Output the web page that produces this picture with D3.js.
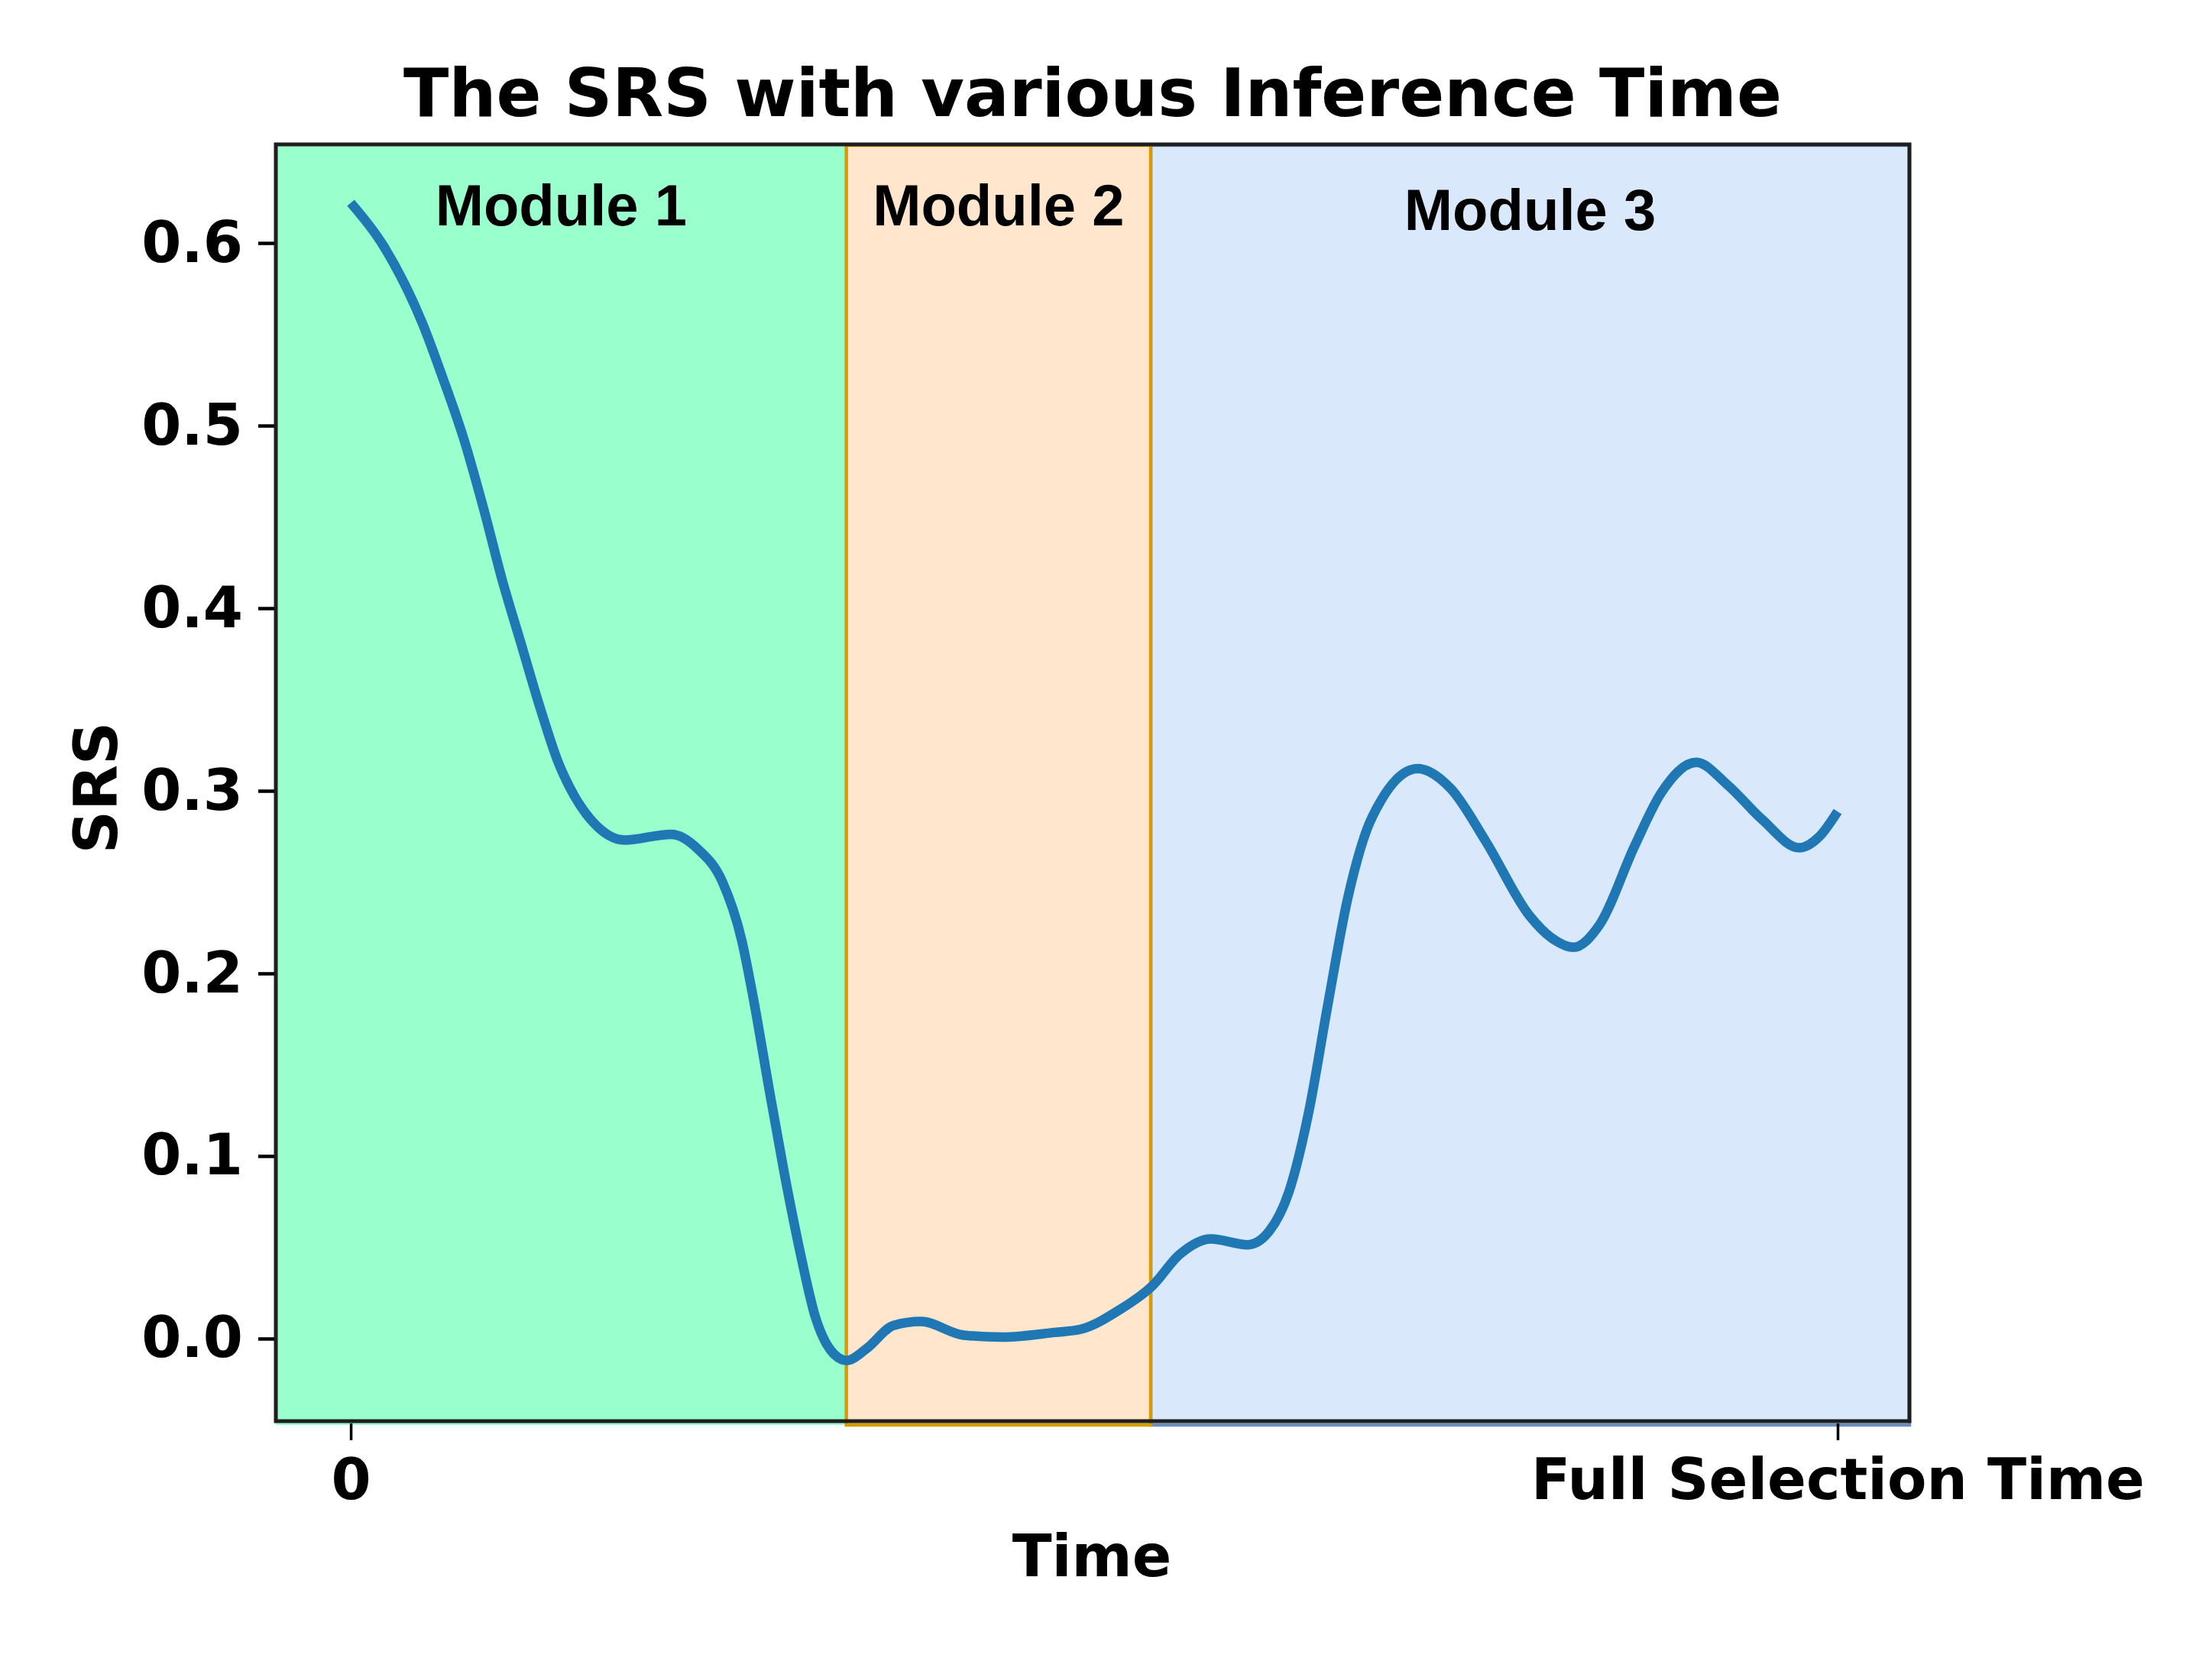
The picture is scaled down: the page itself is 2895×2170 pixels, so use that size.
<!DOCTYPE html>
<html>
<head>
<meta charset="utf-8">
<script src="https://cdn.jsdelivr.net/npm/d3@7"></script>
<style>
  body { margin: 0; background: #ffffff; }
  text { font-family: "DejaVu Sans", sans-serif; font-weight: bold; }
</style>
</head>
<body>
<div id="chart"></div>
<script>
// time as a fraction of the full selection time, SRS
var time = [0.0000, 0.0221, 0.0484, 0.0615, 0.0759, 0.0898, 0.1021, 0.1144, 0.1270, 0.1396,
            0.1501, 0.1632, 0.1841, 0.2156, 0.2340, 0.2497, 0.2628, 0.2707, 0.2812, 0.2916,
            0.3021, 0.3126, 0.3231, 0.3336, 0.3467, 0.3651, 0.3834, 0.4122, 0.4384, 0.4736,
            0.4909, 0.5171, 0.5392, 0.5575, 0.5785, 0.6034, 0.6178, 0.6309, 0.6440, 0.6571,
            0.6703, 0.6834, 0.6925, 0.7176, 0.7397, 0.7633, 0.7928, 0.8075, 0.8223, 0.8400,
            0.8636, 0.8813, 0.9049, 0.9255, 0.9491, 0.9742, 0.9875, 1.0000];
var srs = [0.6220, 0.5983, 0.5556, 0.5270, 0.4930, 0.4531, 0.4147, 0.3810, 0.3464, 0.3155,
           0.2976, 0.2826, 0.2730, 0.2762, 0.2677, 0.2506, 0.2186, 0.1866, 0.1375, 0.0905,
           0.0478, 0.0115, -0.0067, -0.0120, -0.0056, 0.0072, 0.0094, 0.0019, 0.0008, 0.0034,
           0.0051, 0.0158, 0.0290, 0.0461, 0.0546, 0.0514, 0.0589, 0.0802, 0.1229, 0.1827,
           0.2403, 0.2788, 0.2941, 0.3121, 0.3013, 0.2724, 0.2316, 0.2195, 0.2143, 0.2268,
           0.2700, 0.2988, 0.3156, 0.3036, 0.2844, 0.2688, 0.2748, 0.2887];

var moduleNames = ["Module 1", "Module 2", "Module 3"];
var moduleStart = [null, 0.3333, 0.538];   // null = from the left edge
var moduleEnd = [0.3333, 0.538, null];     // null = to the right edge
var moduleFill = ["#99FFCC", "#FFE6CC", "#DAE8FC"];
var moduleStroke = ["none", "#D79B00", "#6C8EBF"];
var drawOrder = [0, 2, 1];                 // orange box sits on top of the blue one

var yTicks = [0.0, 0.1, 0.2, 0.3, 0.4, 0.5, 0.6];
var xTicks = [0, 1];
var xTickLabels = ["0", "Full Selection Time"];

var W = 2895, H = 2170;
// plot box (don't call it "top", window.top is read only)
var pLeft = 361, pRight = 2499, pTop = 189, pBottom = 1860;

var svg = d3.select("#chart").append("svg")
    .attr("width", W)
    .attr("height", H);

var x = d3.scaleLinear().domain([-0.0504, 1.0483]).range([pLeft, pRight]);
var y = d3.scaleLinear().domain([-0.0452, 0.654]).range([pBottom, pTop]);

// module spans
var spans = svg.append("g");
var labels = svg.append("g");
drawOrder.forEach(function(i) {
    var x0 = moduleStart[i] === null ? x.domain()[0] : moduleStart[i];
    var x1 = moduleEnd[i] === null ? x.domain()[1] : moduleEnd[i];
    spans.append("rect")
        .attr("x", x(x0))
        .attr("y", pTop + 1)
        .attr("width", x(x1) - x(x0))
        .attr("height", pBottom - pTop + 4)
        .attr("fill", moduleFill[i])
        .attr("stroke", moduleStroke[i])
        .attr("stroke-width", 4.5);
    labels.append("text")
        .attr("x", x((x0 + x1) / 2))
        .attr("y", i === 2 ? 301 : 295)
        .attr("text-anchor", "middle")
        .style("font-family", "'Liberation Sans', Arial, sans-serif")
        .style("font-size", "76px")
        .attr("fill", "#000")
        .text(moduleNames[i]);
});

// the curve, monotoneX uses the real x spacing so the uneven samples stay smooth
var line = d3.line()
    .x(function(d, i) { return x(time[i]); })
    .y(function(d) { return y(d); })
    .curve(d3.curveMonotoneX);

svg.append("path")
    .datum(srs)
    .attr("d", line)
    .attr("fill", "none")
    .attr("stroke", "#1f77b4")
    .attr("stroke-width", 12.5)
    .attr("stroke-linejoin", "round");

// frame
svg.append("rect")
    .attr("x", pLeft)
    .attr("y", pTop)
    .attr("width", pRight - pLeft)
    .attr("height", pBottom - pTop)
    .attr("fill", "none")
    .attr("stroke", "#1e1e1e")
    .attr("stroke-width", 5);

// y axis
var yAxis = d3.axisLeft(y)
    .tickValues(yTicks)
    .tickFormat(d3.format(".1f"))
    .tickSizeInner(21)
    .tickSizeOuter(0)
    .tickPadding(20);
var gy = svg.append("g")
    .attr("transform", "translate(" + (pLeft - 2) + ",0)")
    .call(yAxis);
gy.select(".domain").remove();
gy.selectAll(".tick line").attr("stroke", "#000").attr("stroke-width", 4.5);
gy.selectAll(".tick text")
    .style("font-family", "'DejaVu Sans', sans-serif")
    .style("font-weight", "bold")
    .style("font-size", "75px")
    .attr("fill", "#000");

// x axis
var xAxis = d3.axisBottom(x)
    .tickValues(xTicks)
    .tickFormat(function(d, i) { return xTickLabels[i]; })
    .tickSizeInner(22)
    .tickSizeOuter(0)
    .tickPadding(24);
var gx = svg.append("g")
    .attr("transform", "translate(0," + (pBottom + 3) + ")")
    .call(xAxis);
gx.select(".domain").remove();
gx.selectAll(".tick line").attr("stroke", "#000").attr("stroke-width", 3.5);
gx.selectAll(".tick text")
    .style("font-family", "'DejaVu Sans', sans-serif")
    .style("font-weight", "bold")
    .style("font-size", "75px")
    .attr("fill", "#000");

// titles
svg.append("text")
    .attr("x", (pLeft + pRight) / 2)
    .attr("y", 152)
    .attr("text-anchor", "middle")
    .style("font-size", "87px")
    .text("The SRS with various Inference Time");

svg.append("text")
    .attr("x", 1429)
    .attr("y", 2063)
    .attr("text-anchor", "middle")
    .style("font-size", "76px")
    .text("Time");

svg.append("text")
    .attr("transform", "translate(153,1031) rotate(-90)")
    .attr("text-anchor", "middle")
    .style("font-size", "78px")
    .text("SRS");
</script>
</body>
</html>
